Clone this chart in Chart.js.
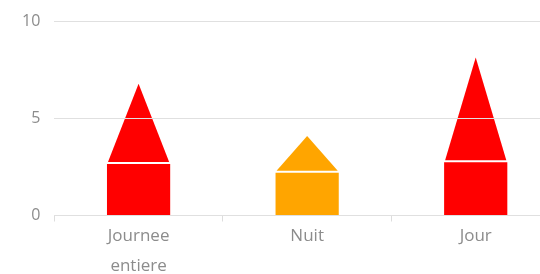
<!DOCTYPE html>
<html>
<head>
<meta charset="utf-8">
<script src="https://cdn.jsdelivr.net/npm/chart.js@4"></script>
<style>
  html, body { margin: 0; padding: 0; background: #fff; overflow: hidden; }
  #wrap { width: 560px; height: 283px; margin-top: -2px; }
</style>
</head>
<body>
<div id="wrap"><canvas id="myChart"></canvas></div>
<script>
// values
const categories = [['Journee', 'entiere'], 'Nuit', 'Jour'];
const baseValues = [2.65, 2.2, 2.75];   // top of the square part
const peakValues = [6.8, 4.1, 8.15];    // tip of the triangle
const barColors = ['#ff0000', '#ffa500', '#ff0000'];
const yTicks = [0, 5, 10];

// draws the triangle of each "peak" bar from the bar's own geometry
const trianglePlugin = {
  id: 'triangles',
  afterDatasetsDraw(chart) {
    const meta = chart.getDatasetMeta(1);
    const ctx = chart.ctx;
    ctx.save();
    meta.data.forEach((bar, i) => {
      const p = bar.getProps(['x', 'y', 'base', 'width'], true);
      const half = p.width / 2 - 1;
      const bottom = p.base - 2;
      ctx.beginPath();
      ctx.moveTo(p.x - half, bottom);
      ctx.lineTo(p.x + half, bottom);
      ctx.lineTo(p.x, p.y);
      ctx.closePath();
      ctx.fillStyle = barColors[i];
      ctx.fill();
    });
    ctx.restore();
  }
};

let ctx = document.getElementById('myChart').getContext('2d');
let myChart = new Chart(ctx, {
  type: 'bar',
  data: {
    labels: categories,
    datasets: [{
      data: baseValues,
      backgroundColor: barColors,
      grouped: false,
      barPercentage: 0.375,
      categoryPercentage: 1
    }, {
      // floating bar, only used for its position; the plugin fills it
      data: baseValues.map((b, i) => [b, peakValues[i]]),
      backgroundColor: 'rgba(0,0,0,0)',
      grouped: false,
      barPercentage: 0.375,
      categoryPercentage: 1
    }]
  },
  options: {
    responsive: true,
    maintainAspectRatio: false,
    animation: false,
    layout: { padding: { left: 8, top: 7, right: 0, bottom: 0 } },
    plugins: { legend: { display: false }, tooltip: { enabled: false } },
    scales: {
      x: {
        offset: true,
        grid: { drawOnChartArea: false, color: '#dddddd', tickLength: 6 },
        border: { color: '#e0e0e0' },
        ticks: { color: '#8c8c8c', font: { family: 'Open Sans', size: 17, lineHeight: 1.75 }, padding: 0 }
      },
      y: {
        min: 0,
        max: 10,
        afterBuildTicks(scale) { scale.ticks = yTicks.map(v => ({ value: v })); },
        grid: { color: '#e0e0e0', drawTicks: false, z: 1 },
        border: { display: false },
        ticks: { color: '#8c8c8c', font: { family: 'Open Sans', size: 16 }, padding: 14 }
      }
    }
  },
  plugins: [trianglePlugin]
});
</script>
</body>
</html>
